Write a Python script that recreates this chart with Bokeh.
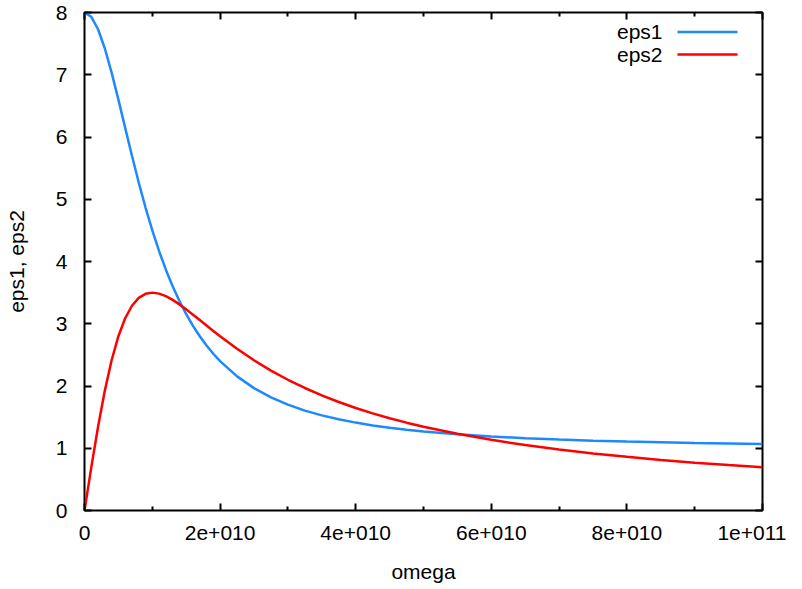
from bokeh.plotting import figure
from bokeh.models import Range1d, LinearAxis, FixedTicker, Label
from bokeh.embed import file_html
from bokeh.resources import INLINE

# omega values (rad/s) and the two curves
omega = [0.0, 1e9, 2e9, 3e9, 4e9, 5e9, 6e9, 7e9, 8e9, 9e9, 1e10,
         1.1e10, 1.2e10, 1.3e10, 1.4e10, 1.5e10, 1.6e10, 1.7e10, 1.8e10, 1.9e10, 2e10,
         2.25e10, 2.5e10, 2.75e10, 3e10, 3.25e10, 3.5e10, 3.75e10, 4e10, 4.25e10,
         4.5e10, 4.75e10, 5e10, 5.5e10, 6e10, 6.5e10, 7e10, 7.5e10, 8e10, 8.5e10,
         9e10, 9.5e10, 1e11]
eps1 = [8.0, 7.931, 7.731, 7.422, 7.034, 6.6, 6.147, 5.698, 5.268, 4.867, 4.5,
        4.167, 3.869, 3.602, 3.365, 3.154, 2.966, 2.799, 2.651, 2.518, 2.4,
        2.155, 1.966, 1.818, 1.7, 1.605, 1.528, 1.465, 1.412, 1.367,
        1.329, 1.297, 1.269, 1.224, 1.189, 1.162, 1.14, 1.122, 1.108, 1.096,
        1.085, 1.077, 1.069]
eps2 = [0.0, 0.693, 1.346, 1.927, 2.414, 2.8, 3.088, 3.289, 3.415, 3.481, 3.5,
        3.484, 3.443, 3.383, 3.311, 3.231, 3.146, 3.059, 2.972, 2.885, 2.8,
        2.598, 2.414, 2.248, 2.1, 1.968, 1.849, 1.743, 1.647, 1.561,
        1.482, 1.411, 1.346, 1.232, 1.135, 1.052, 0.98, 0.917, 0.862, 0.812,
        0.768, 0.729, 0.693]

x_ticks = [0, 20000000000, 40000000000, 60000000000, 80000000000, 100000000000]
x_tick_labels = ["0", "2e+010", "4e+010", "6e+010", "8e+010", "1e+011"]
x_minor = [10000000000, 30000000000, 50000000000, 70000000000, 90000000000]
y_ticks = [0, 1, 2, 3, 4, 5, 6, 7, 8]
series_names = ["eps1", "eps2"]
series_colors = ["#1e88ff", "#ff0000"]

X_MIN, X_MAX = 0, 1e11
Y_MIN, Y_MAX = 0, 8

FONT = "Liberation Sans"
FS = "21px"

p = figure(width=786, height=586, x_range=Range1d(X_MIN, X_MAX), y_range=Range1d(Y_MIN, Y_MAX),
           output_backend="svg", toolbar_location=None,
           min_border_left=84, min_border_right=24, min_border_top=12, min_border_bottom=76,
           x_axis_label="omega", y_axis_label="eps1, eps2")
p.grid.visible = False
p.background_fill_color = "white"
p.border_fill_color = "white"
p.outline_line_color = "black"
p.outline_line_width = 2

xt = FixedTicker(ticks=x_ticks, minor_ticks=x_minor)
yt = FixedTicker(ticks=y_ticks, minor_ticks=[])

def style_axis(ax, show_labels):
    ax.axis_line_color = None
    ax.major_tick_in = 7
    ax.major_tick_out = 0
    ax.minor_tick_in = 4
    ax.minor_tick_out = 0
    ax.major_tick_line_width = 2
    ax.minor_tick_line_width = 2
    ax.major_tick_line_color = "black"
    ax.minor_tick_line_color = "black"
    ax.major_label_text_font = FONT
    ax.major_label_text_color = "black"
    ax.axis_label_text_font = FONT
    ax.axis_label_text_font_style = "normal"
    ax.axis_label_text_font_size = FS
    ax.axis_label_text_color = "black"
    if show_labels:
        ax.major_label_text_font_size = FS
    else:
        ax.major_label_text_font_size = "1px"
        ax.major_label_standoff = 0

xa = p.xaxis[0]
xa.ticker = xt
xa.major_label_overrides = {k: v for k, v in zip(x_ticks, x_tick_labels)}
style_axis(xa, True)
xa.major_label_standoff = 15
xa.axis_label_standoff = 17

ya = p.yaxis[0]
ya.ticker = yt
style_axis(ya, True)
ya.major_label_standoff = 17
ya.axis_label_standoff = 25

top = LinearAxis(ticker=FixedTicker(ticks=x_ticks, minor_ticks=x_minor))
style_axis(top, False)
top.major_label_overrides = {k: "" for k in x_ticks}
p.add_layout(top, "above")
right = LinearAxis(ticker=FixedTicker(ticks=y_ticks, minor_ticks=[]))
style_axis(right, False)
right.major_label_overrides = {k: "" for k in y_ticks}
p.add_layout(right, "right")

p.line(omega, eps1, line_color=series_colors[0], line_width=2.5)
p.line(omega, eps2, line_color=series_colors[1], line_width=2.5)

# gnuplot-style key in the top right: text, then line sample
key_text_x = X_MIN + 0.8525 * (X_MAX - X_MIN)
key_x0 = X_MIN + 0.8746 * (X_MAX - X_MIN)
key_x1 = X_MIN + 0.9631 * (X_MAX - X_MIN)
key_ys = [Y_MIN + 0.9610 * (Y_MAX - Y_MIN), Y_MIN + 0.9157 * (Y_MAX - Y_MIN)]
for name, col, ky in zip(series_names, series_colors, key_ys):
    p.add_layout(Label(x=key_text_x, y=ky, text=name, text_align="right", text_baseline="middle",
                       text_font=FONT, text_font_size=FS, text_color="black"))
    p.segment(x0=[key_x0], y0=[ky], x1=[key_x1], y1=[ky], line_color=col, line_width=2.5)

open("out.html", "w").write(file_html(p, INLINE))
